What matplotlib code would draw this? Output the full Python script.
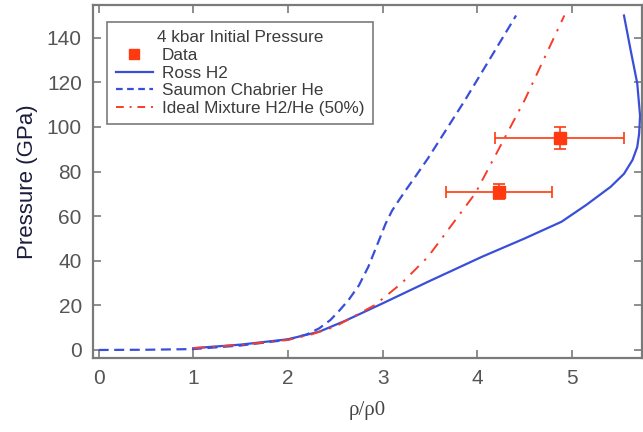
import matplotlib

matplotlib.use("Agg")
import matplotlib.pyplot as plt
from matplotlib.lines import Line2D

# Compression data (rho/rho0 vs pressure in GPa)
ross_rho = [1.0, 1.5, 2.0, 2.33, 2.6, 3.0, 3.48, 4.05, 4.5, 4.89, 5.15, 5.41,
            5.55, 5.64, 5.69, 5.71, 5.72, 5.69, 5.62, 5.55]
ross_p = [0.8, 2.4, 4.8, 8.2, 13.0, 20.9, 30.6, 41.8, 50.0, 57.5, 65.0, 73.2,
          79.0, 85.2, 91.0, 97.0, 105.0, 119.6, 134.5, 150.0]

saumon_rho = [0.0, 0.5, 1.0, 1.5, 2.0, 2.2, 2.33, 2.45, 2.55, 2.64, 2.75,
              2.85, 2.96, 3.03, 3.1, 3.17, 3.25, 3.35, 3.48, 3.87, 4.41]
saumon_p = [0.0, 0.1, 0.4, 2.0, 4.6, 7.0, 9.7, 13.5, 18.0, 22.4, 29.0,
            37.4, 49.0, 56.5, 62.5, 67.0, 72.0, 78.0, 86.0, 112.0, 150.0]

ideal_rho = [1.0, 1.5, 2.0, 2.25, 2.5, 2.92, 3.2, 3.48, 3.98, 4.5, 4.92]
ideal_p = [0.8, 2.3, 4.5, 7.0, 10.5, 20.2, 29.9, 41.8, 70.3, 112.0, 150.0]

data_rho = [4.23, 4.87]
data_p = [71.0, 95.0]
data_rho_err = [0.56, 0.68]
data_p_err = [3.5, 5.0]

blue = "#3a4fd9"
red = "#f53d2a"
data_red = "#ff3a10"
gray = "#7a7a7a"

fig = plt.figure(figsize=(6.43, 4.32), dpi=100)
ax = fig.add_axes([0.1446, 0.1713, 0.8538, 0.8171])

ax.plot(ross_rho, ross_p, color=blue, lw=1.6, label="Ross H2")
ax.plot(saumon_rho, saumon_p, color=blue, lw=1.6, linestyle=(0, (4.5, 2.5)),
        label="Saumon Chabrier He")
ax.plot(ideal_rho, ideal_p, color=red, lw=1.4, linestyle=(0, (6, 4, 1.2, 4)),
        label="Ideal Mixture H2/He (50%)")
ax.errorbar(data_rho, data_p, xerr=data_rho_err, yerr=data_p_err, fmt="s",
            color=data_red, ms=8, elinewidth=1.2, capsize=4, capthick=1.2)

ax.set_xlim(-0.06, 5.74)
ax.set_ylim(-3.6, 154.7)
ax.set_xticks(range(0, 6))
ax.set_yticks(range(0, 141, 20))

for lab in ax.get_xticklabels() + ax.get_yticklabels():
    lab.set_fontfamily("Liberation Sans")
    lab.set_fontsize(15)
    lab.set_color("#555555")

ax.tick_params(direction="in", top=True, right=True, length=6, width=1.2,
               color=gray, pad=8)
for sp in ax.spines.values():
    sp.set_color(gray)
    sp.set_linewidth(1.6)

ax.set_xlabel("ρ/ρ0", family="Liberation Serif", fontsize=15, color="#444444",
              labelpad=9)
ax.set_ylabel("Pressure (GPa)", family="Liberation Sans", fontsize=16,
              color="#1c1c3c", labelpad=6)

handles = [
    Line2D([], [], linestyle="none", marker="s", color=data_red, ms=7),
    Line2D([], [], color=blue, lw=1.6),
    Line2D([], [], color=blue, lw=1.6, linestyle=(0, (3, 2))),
    Line2D([], [], color=red, lw=1.4, linestyle=(0, (4, 3, 1, 3))),
]
labels = ["Data", "Ross H2", "Saumon Chabrier He", "Ideal Mixture H2/He (50%)"]
leg = ax.legend(handles, labels, title="4 kbar Initial Pressure",
                loc="upper left", bbox_to_anchor=(0.0255, 0.952),
                borderaxespad=0, fancybox=False, framealpha=1,
                prop={"family": "Liberation Sans", "size": 12.3},
                title_fontproperties={"family": "Liberation Sans", "size": 12.3},
                handlelength=2.2, handletextpad=0.5, labelspacing=0.15,
                borderpad=0.5)
leg.get_frame().set_edgecolor(gray)
leg.get_frame().set_linewidth(1.2)
for t in leg.get_texts():
    t.set_color("#3c3c3c")
leg.get_title().set_color("#3c3c3c")

fig.savefig("out.png", dpi=100)
